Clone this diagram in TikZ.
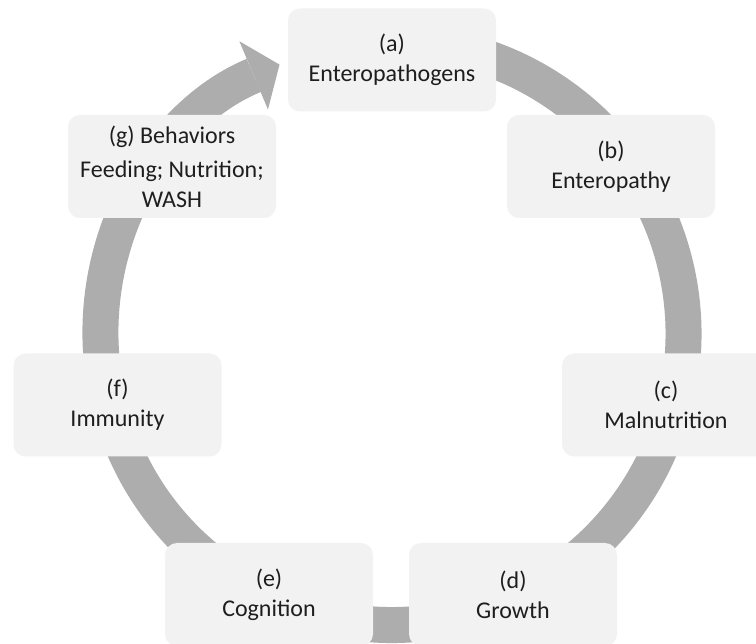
\documentclass[tikz,border=0pt]{standalone}
\usepackage{fontspec}
\setmainfont{Carlito}
\usepackage{xcolor}
\usetikzlibrary{arrows.meta}
\definecolor{ringgray}{HTML}{ADADAD}
\definecolor{boxgray}{HTML}{F2F2F2}
\definecolor{txtgray}{HTML}{1E1E1E}

\begin{document}
\begin{tikzpicture}[x=1pt, y=-1pt,
		stage/.style={rectangle, rounded corners=12pt, fill=boxgray, minimum width=208pt, minimum height=103pt, inner sep=0pt, align=center, text=txtgray, font=\fontsize{24}{30}\selectfont}]
		\useasboundingbox (0,0) rectangle (756,644);
		\fill[white] (0,0) rectangle (756,644);
		\coordinate (hub) at (392,333.5);

		% the cycle ring, running from (a) round to (g)
		\draw[ringgray, line width=36pt, -{Triangle[width=74pt, length=28pt, line width=0pt]}] (hub) ++(-100:291.5) arc[start angle=-100, end angle=247.3, radius=291.5];

		\node[stage] (pathogens) at (392,60) {(a)\\Enteropathogens};
		\node[stage] (enteropathy) at (611,166.5) {(b)\\Enteropathy};
		\node[stage] (malnutrition) at (666,405) {(c)\\Malnutrition};
		\node[stage] (growth) at (513,594.5) {(d)\\Growth};
		\node[stage] (cognition) at (269,594.5) {(e)\\Cognition};
		\node[stage] (immunity) at (117.5,405) {(f)\\Immunity};
		\node[stage] (behaviors) at (172,166.5) {(g) Behaviors\\[4pt]Feeding; Nutrition;\\WASH};
	\end{tikzpicture}
\end{document}
